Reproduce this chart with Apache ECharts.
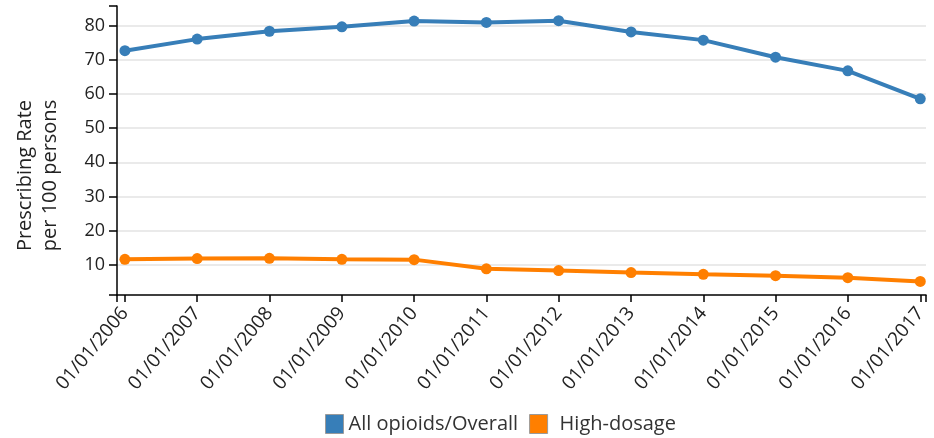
<!DOCTYPE html>
<html>
<head>
<meta charset="utf-8">
<script src="https://cdn.jsdelivr.net/npm/echarts@6/dist/echarts.min.js"></script>
<style>
html,body{margin:0;padding:0;background:#fff;}
#chart{width:934px;height:438px;}
</style>
</head>
<body>
<div id="chart"></div>
<script>
var years = [2006, 2007, 2008, 2009, 2010, 2011, 2012, 2013, 2014, 2015, 2016, 2017];
var overall = [72.7, 76.1, 78.4, 79.7, 81.4, 81.0, 81.5, 78.2, 75.8, 70.8, 66.8, 58.6];
var highDosage = [11.6, 11.8, 11.9, 11.6, 11.5, 8.8, 8.3, 7.7, 7.2, 6.8, 6.2, 5.1];
var yTickLabels = [10, 20, 30, 40, 50, 60, 70, 80];
var seriesNames = ['All opioids/Overall', 'High-dosage'];

// x positions are day counts of 1 January of each year (so leap years space correctly)
function dayOf(y) { return Math.round(Date.UTC(y, 0, 1) / 86400000); }
var xTicks = years.map(dayOf);
var xMin = xTicks[0] - 40;
var xMax = xTicks[xTicks.length - 1] + 29;
var yMin = 1.14, yMax = 85.8;

function pairs(vals) { return years.map(function (y, i) { return [dayOf(y), vals[i]]; }); }
function pad2(n) { return n < 10 ? '0' + n : '' + n; }

var font = 'Open Sans';
var chart = echarts.init(document.getElementById('chart'), null, { renderer: 'canvas' });
chart.setOption({
  animation: false,
  backgroundColor: '#fff',
  grid: { left: 117, right: 8, top: 6, bottom: 143, containLabel: false },
  legend: {
    top: 409,
    left: 320,
    icon: 'rect',
    itemWidth: 18,
    itemHeight: 19,
    itemGap: 11,
    selectedMode: false,
    textStyle: { fontFamily: font, fontSize: 20, color: '#333' },
    data: [
      { name: seriesNames[0], itemStyle: { borderColor: '#9a9a9a', borderWidth: 1 } },
      { name: seriesNames[1], itemStyle: { borderColor: '#9a9a9a', borderWidth: 1 }, textStyle: { padding: [0, 0, 0, 7] } }
    ]
  },
  xAxis: {
    type: 'value',
    min: xMin,
    max: xMax,
    axisLine: { show: true, lineStyle: { color: '#000', width: 1.5 } },
    axisTick: { show: true, length: 7, lineStyle: { color: '#000', width: 1.5 }, customValues: [xMin].concat(xTicks).concat([xMax]) },
    axisLabel: {
      customValues: xTicks,
      rotate: 50,
      fontFamily: font,
      fontSize: 19,
      color: '#222',
      margin: 15,
      formatter: function (v) {
        var d = new Date(v * 86400000);
        return pad2(d.getUTCMonth() + 1) + '/' + pad2(d.getUTCDate()) + '/' + d.getUTCFullYear();
      }
    },
    splitLine: { show: false }
  },
  yAxis: {
    type: 'value',
    min: yMin,
    max: yMax,
    name: 'Prescribing Rate\nper 100 persons',
    nameLocation: 'middle',
    nameRotate: 90,
    nameGap: 54,
    nameTextStyle: { fontFamily: font, fontSize: 20, color: '#222', lineHeight: 25, padding: [0, 50, 0, 0] },
    axisLine: { show: true, lineStyle: { color: '#000', width: 1.5 } },
    axisTick: { show: true, length: 8, lineStyle: { color: '#000', width: 1.5 }, customValues: [yMin].concat(yTickLabels).concat([yMax]) },
    axisLabel: { customValues: yTickLabels, fontFamily: font, fontSize: 18, color: '#222', margin: 12 },
    splitLine: { show: true, showMinLine: false, showMaxLine: false, lineStyle: { color: '#e3e3e3', width: 1.5 } }
  },
  series: [
    {
      name: seriesNames[0], type: 'line', data: pairs(overall),
      color: '#377eb8', symbol: 'circle', symbolSize: 11,
      lineStyle: { width: 4, color: '#377eb8' }, itemStyle: { color: '#377eb8' },
      emphasis: { disabled: true }
    },
    {
      name: seriesNames[1], type: 'line', data: pairs(highDosage),
      color: '#ff7f00', symbol: 'circle', symbolSize: 11,
      lineStyle: { width: 4, color: '#ff7f00' }, itemStyle: { color: '#ff7f00' },
      emphasis: { disabled: true }
    }
  ]
});
</script>
</body>
</html>
